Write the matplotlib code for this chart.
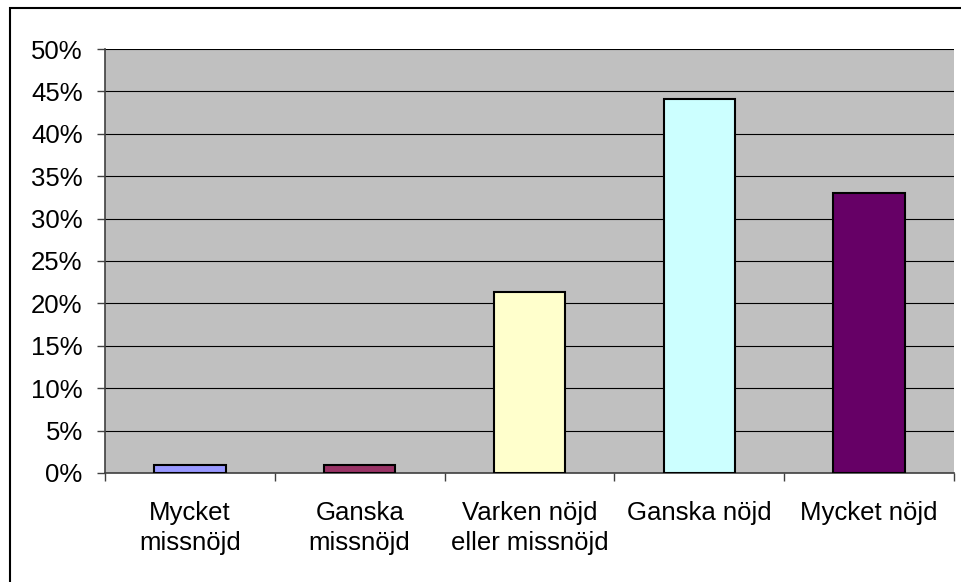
import matplotlib.pyplot as plt
from matplotlib.patches import Rectangle
from matplotlib.ticker import MultipleLocator, FuncFormatter

# answers and share of respondents (%)
categories = ["Mycket\nmissnöjd", "Ganska\nmissnöjd", "Varken nöjd\neller missnöjd",
              "Ganska nöjd", "Mycket nöjd"]
shares = [1.0, 1.0, 21.4, 44.1, 33.0]
bar_colors = ["#9999FF", "#993366", "#FFFFCC", "#CCFFFF", "#660066"]

plt.rcParams["font.family"] = ["Liberation Sans", "DejaVu Sans"]
plt.rcParams["font.size"] = 18.5

fig = plt.figure(figsize=(9.62, 5.82), dpi=100)
ax = fig.add_axes([0.1091, 0.1873, 0.8826, 0.7285])

# outer frame (only left/top visible in the original crop)
fig.patches.append(Rectangle((9.5 / 962, -0.1), 1.2, 1.1 - 8.0 / 582,
                             transform=fig.transFigure, fill=False,
                             edgecolor="black", linewidth=1.5, zorder=0))

ax.set_facecolor("#C0C0C0")
x = range(len(categories))
ax.bar(x, shares, width=0.42, color=bar_colors, edgecolor="black",
       linewidth=1.5, zorder=3)

ax.set_xlim(-0.5, len(categories) - 0.5)
ax.set_ylim(0, 50)
ax.yaxis.set_major_locator(MultipleLocator(5))
ax.yaxis.set_major_formatter(FuncFormatter(lambda v, _: f"{v:.0f}%"))
ax.grid(axis="y", color="black", linewidth=0.8, zorder=1)
ax.set_axisbelow(True)

# x ticks sit at category boundaries, labels at centres
ax.set_xticks([i - 0.5 for i in range(len(categories) + 1)])
ax.set_xticklabels([])
ax.set_xticks(list(x), minor=True)
ax.set_xticklabels(categories, minor=True, linespacing=1.35)
ax.tick_params(axis="x", which="minor", length=0, pad=20)
ax.tick_params(axis="x", which="major", length=6, width=1, color="#404040")
ax.tick_params(axis="y", length=6, width=1, color="#404040", pad=10)

for side in ["top", "right"]:
    ax.spines[side].set_visible(False)
for side in ["left", "bottom"]:
    ax.spines[side].set_color("#404040")
    ax.spines[side].set_linewidth(1.2)

fig.savefig("out.png", dpi=100)
